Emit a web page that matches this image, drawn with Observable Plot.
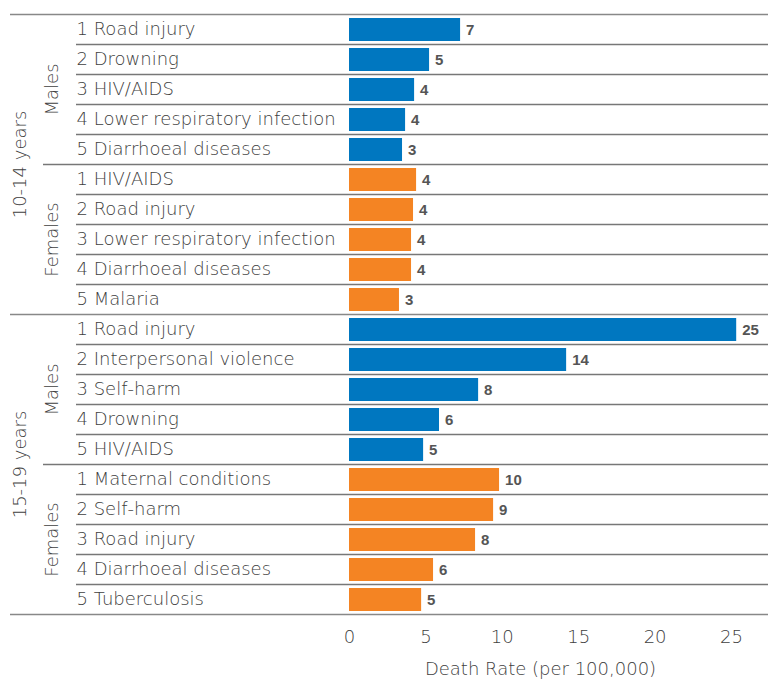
<!DOCTYPE html>
<html>
<head>
<meta charset="utf-8">
<script src="https://cdn.jsdelivr.net/npm/d3@7"></script>
<script src="https://cdn.jsdelivr.net/npm/@observablehq/plot@0.6"></script>
<style>
  body { margin: 0; background: #fff; }
  #chart svg { display: block; }
</style>
</head>
<body>
<div id="chart"></div>
<script>
// ---- data ----
const ageGroups = ["10-14 years", "15-19 years"];
const sexes = ["Males", "Females"];
const causes = [
  ["1 Road injury", "2 Drowning", "3 HIV/AIDS", "4 Lower respiratory infection", "5 Diarrhoeal diseases"],
  ["1 HIV/AIDS", "2 Road injury", "3 Lower respiratory infection", "4 Diarrhoeal diseases", "5 Malaria"],
  ["1 Road injury", "2 Interpersonal violence", "3 Self-harm", "4 Drowning", "5 HIV/AIDS"],
  ["1 Maternal conditions", "2 Self-harm", "3 Road injury", "4 Diarrhoeal diseases", "5 Tuberculosis"]
];
const rates = [
  [7.27, 5.24, 4.26, 3.67, 3.47],
  [4.39, 4.19, 4.06, 4.06, 3.27],
  [25.34, 14.21, 8.45, 5.89, 4.85],
  [9.82, 9.43, 8.25, 5.50, 4.72]
];
const valueLabels = [
  ["7", "5", "4", "4", "3"],
  ["4", "4", "4", "4", "3"],
  ["25", "14", "8", "6", "5"],
  ["10", "9", "8", "6", "5"]
];
const xTicks = [0, 5, 10, 15, 20, 25];
const xDomain = [0, 25];
const xLabel = "Death Rate (per 100,000)";

// ---- table ----
const rows = [];
causes.forEach((list, g) => {
  list.forEach((c, i) => {
    rows.push({
      row: rows.length,
      age: ageGroups[Math.floor(g / 2)],
      sex: sexes[g % 2],
      cause: c,
      rate: rates[g][i],
      label: valueLabels[g][i]
    });
  });
});
const nRows = rows.length;
const groupLabels = [];
for (let g = 0; g < 4; g++) groupLabels.push({sex: sexes[g % 2], y: g * 5 + 2.5});
const ageLabels = ageGroups.map((a, k) => ({age: a, y: k * 10 + 5}));

const rowBounds = d3.range(0, nRows + 1).filter(b => b % 5 !== 0);
const sexBounds = d3.range(5, nRows, 10);
const ageBounds = d3.range(0, nRows + 1, 10);

const blue = "#0077c0", orange = "#f48423";
const font = "'DejaVu Sans', 'Helvetica Neue', Arial, sans-serif";
const textColor = "#404040";
const fs = 18;
const fw = 200;

const chart = Plot.plot({
  width: 768,
  height: 679,
  marginLeft: 349,
  marginRight: 37,
  marginTop: 14,
  marginBottom: 65,
  style: {fontFamily: font, background: "#fff"},
  x: {domain: xDomain},
  y: {domain: [nRows, 0], axis: null},
  marks: [
    Plot.rectX(rows, {
      x1: 0, x2: "rate", y1: "row", y2: d => d.row + 1,
      insetTop: 4, insetBottom: 3,
      fill: d => d.sex === "Males" ? blue : orange
    }),
    Plot.text(rows, {
      x: "rate", y: d => d.row + 0.53, text: "label",
      textAnchor: "start", dx: 5.5, fontSize: 15, fontWeight: "bold", fill: "#555",
      fontFamily: "'Liberation Sans', Arial, sans-serif"
    }),
    Plot.text(rows, {
      x: 0, y: d => d.row + 0.5, text: "cause",
      textAnchor: "start", dx: -273, fontSize: fs, fontWeight: fw, fill: textColor
    }),
    Plot.text(groupLabels, {
      x: 0, y: "y", text: "sex", rotate: -90,
      dx: -297, fontSize: fs, fontWeight: fw, fill: textColor
    }),
    Plot.text(ageLabels, {
      x: 0, y: "y", text: "age", rotate: -90,
      dx: -329, fontSize: fs, fontWeight: fw, fill: textColor
    }),
    Plot.ruleY(rowBounds, {stroke: "#777", strokeWidth: 1.5, insetLeft: -273, insetRight: -37}),
    Plot.ruleY(sexBounds, {stroke: "#777", strokeWidth: 1.5, insetLeft: -306, insetRight: -37}),
    Plot.ruleY(ageBounds, {stroke: "#888", strokeWidth: 1.5, insetLeft: -339, insetRight: -37}),
    Plot.axisX({ticks: xTicks, tickSize: 0, tickPadding: 16, fontSize: fs, fontWeight: fw, color: textColor, label: null}),
    Plot.text([xLabel], {
      x: d3.mean(xDomain), frameAnchor: "bottom", dy: 60, text: d => d,
      fontSize: 18, fontWeight: fw, fill: textColor
    })
  ]
});
document.getElementById("chart").appendChild(chart);
</script>
</body>
</html>
